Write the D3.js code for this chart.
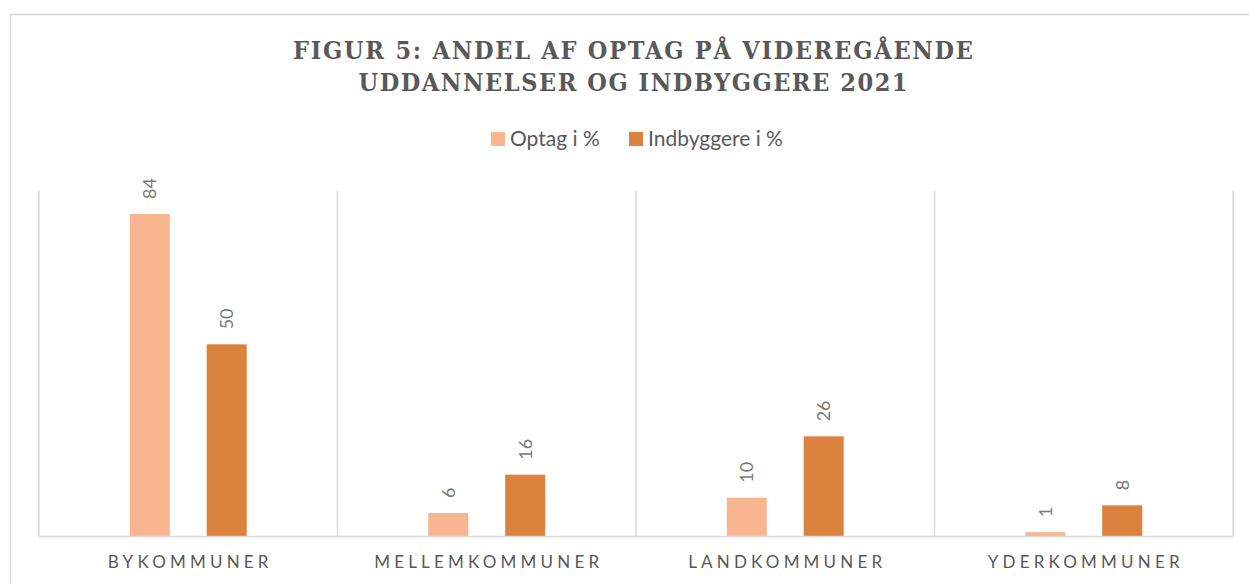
<!DOCTYPE html>
<html>
<head>
<meta charset="utf-8">
<script src="https://cdn.jsdelivr.net/npm/d3@7"></script>
<style>
  body { margin: 0; background: #fff; }
  svg { display: block; }
</style>
</head>
<body>
<script>
//data
var categories = ["BYKOMMUNER", "MELLEMKOMMUNER", "LANDKOMMUNER", "YDERKOMMUNER"];
var seriesNames = ["Optag i %", "Indbyggere i %"];
var optag = [84, 6, 10, 1];
var indbyggere = [50, 16, 26, 8];
var titleLines = ["FIGUR 5: ANDEL AF OPTAG PÅ VIDEREGÅENDE", "UDDANNELSER OG INDBYGGERE 2021"];
var colors = ["#f9b590", "#db823e"];

(function(){
    var width = 1249,
        height = 584;

    var svg = d3.select("body")
        .append("svg")
        .attr("width", width)
        .attr("height", height);

    //chart frame
    svg.append("rect")
        .attr("x", 10.5)
        .attr("y", 14.5)
        .attr("width", 1260)
        .attr("height", 620)
        .attr("fill", "#fff")
        .attr("stroke", "#d9d9d9")
        .attr("stroke-width", 1.5);

    //plot area
    var left = 39, right = 1233, top = 191, bottom = 536;

    var x = d3.scaleBand()
        .domain(categories)
        .range([left, right])
        .padding(0);

    var xInner = d3.scaleBand()
        .domain(seriesNames)
        .range([0, x.bandwidth()])
        .paddingInner(0.48)
        .paddingOuter(1.18);

    var y = d3.scaleLinear()
        .domain([0, 90])
        .range([bottom, top]);

    //vertical separators between categories
    var seps = d3.range(categories.length + 1).map(function(i){ return left + i * x.step(); });
    svg.selectAll(".sep")
        .data(seps)
        .enter()
        .append("line")
        .attr("class", "sep")
        .attr("x1", function(d){ return d; })
        .attr("x2", function(d){ return d; })
        .attr("y1", top)
        .attr("y2", bottom)
        .attr("stroke", "#d9d9d9")
        .attr("stroke-width", 1.5);

    //build rows
    var rows = [];
    categories.forEach(function(c, i){
        rows.push({cat: c, s: seriesNames[0], v: optag[i], k: 0});
        rows.push({cat: c, s: seriesNames[1], v: indbyggere[i], k: 1});
    });

    svg.selectAll(".bar")
        .data(rows)
        .enter()
        .append("rect")
        .attr("class", "bar")
        .attr("x", function(d){ return x(d.cat) + xInner(d.s); })
        .attr("y", function(d){ return y(d.v); })
        .attr("width", xInner.bandwidth())
        .attr("height", function(d){ return y(0) - y(d.v); })
        .attr("fill", function(d){ return colors[d.k]; });

    //rotated value labels
    svg.selectAll(".lbl")
        .data(rows)
        .enter()
        .append("text")
        .attr("class", "lbl")
        .attr("transform", function(d){
            var cx = x(d.cat) + xInner(d.s) + xInner.bandwidth() / 2;
            return "translate(" + (cx + 6.5) + "," + (y(d.v) - 15) + ") rotate(-90)";
        })
        .attr("font-family", "Lato, 'Open Sans', sans-serif")
        .attr("font-size", 18)
        .attr("fill", "#7a7a7a")
        .text(function(d){ return d.v; });

    //baseline
    svg.append("line")
        .attr("x1", left)
        .attr("x2", right)
        .attr("y1", bottom + 0.5)
        .attr("y2", bottom + 0.5)
        .attr("stroke", "#d9d9d9")
        .attr("stroke-width", 1.5);

    //category axis labels
    var xAxis = d3.axisBottom(x).tickSize(0).tickPadding(0);
    var gx = svg.append("g")
        .attr("transform", "translate(2," + (bottom + 32) + ")")
        .call(xAxis);
    gx.select(".domain").remove();
    gx.selectAll("text")
        .attr("dy", 0)
        .attr("font-family", "Lato, 'Open Sans', sans-serif")
        .attr("font-size", 17)
        .attr("letter-spacing", "4.2px")
        .attr("fill", "#595959");

    //title
    var titleW = [680, 549];
    svg.selectAll(".title")
        .data(titleLines)
        .enter()
        .append("text")
        .attr("class", "title")
        .attr("x", 633)
        .attr("y", function(d, i){ return 59 + i * 32; })
        .attr("text-anchor", "middle")
        .attr("font-family", "'DejaVu Serif', 'Liberation Serif', serif")
        .attr("font-weight", "bold")
        .attr("font-stretch", "condensed")
        .attr("font-size", 25)
        .attr("fill", "#595959")
        .attr("textLength", function(d, i){ return titleW[i]; })
        .attr("lengthAdjust", "spacing")
        .text(function(d){ return d; });

    //legend
    var legend = svg.append("g").attr("class", "legend");
    var legX = [491, 629];
    seriesNames.forEach(function(s, i){
        legend.append("rect")
            .attr("x", legX[i])
            .attr("y", 132)
            .attr("width", 14)
            .attr("height", 14)
            .attr("fill", colors[i]);
        legend.append("text")
            .attr("x", legX[i] + 19)
            .attr("y", 146)
            .attr("font-family", "Lato, 'Open Sans', sans-serif")
            .attr("font-size", 21)
            .attr("fill", "#595959")
            .text(s);
    });
})();
</script>
</body>
</html>
